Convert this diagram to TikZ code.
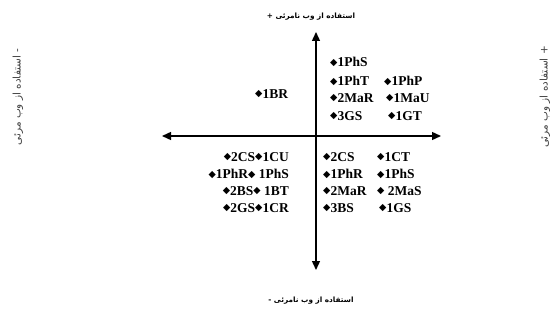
\documentclass[tikz,border=0pt]{standalone}
\usepackage{fontspec}
\setmainfont{Liberation Serif}
\newfontfamily\arabicfont[Script=Arabic]{DejaVu Sans}
\newfontfamily\symfont{DejaVu Sans}
\TeXXeTstate=1
\usetikzlibrary{arrows.meta}
\newcommand{\dmd}{\raisebox{1.6pt}{\symfont\fontsize{9.5}{9.5}\selectfont ◆}}
\begin{document}
\begin{tikzpicture}[x=1pt,y=-1pt,
  item/.style={anchor=west,inner sep=0pt,font=\fontsize{13.5}{13.5}\selectfont\bfseries},
  rowl/.style={anchor=east,inner sep=0pt,font=\fontsize{13.5}{13.5}\selectfont\bfseries},
  axis/.style={line width=1.4pt,{Triangle[length=9pt,width=8pt]}-{Triangle[length=9pt,width=8pt]}},
  plabel/.style={font=\arabicfont\fontsize{7.3}{7.3}\selectfont\bfseries,inner sep=0pt},
  slabel/.style={font=\arabicfont\fontsize{10.5}{10.5}\selectfont,inner sep=0pt,rotate=90,text=black!75}]
\useasboundingbox (0,0) rectangle (550,321);
% axes
\coordinate (top) at (316,32);
\coordinate (bot) at (316,270);
\coordinate (lft) at (162,136);
\coordinate (rgt) at (441,136);
\draw[axis] (bot) -- (top);
\draw[axis] (lft) -- (rgt);
% axis labels
\node[plabel] (ltop) at (311,17) {+ \beginR استفاده از وب نامرئی\endR};
\node[plabel] (lbot) at (311,301) {- \beginR استفاده از وب نامرئی\endR};
\node[slabel] (llft) at (18,97) {\beginR - استفاده از وب مرئی\endR};
\node[slabel] (lrgt) at (545,97) {\beginR + استفاده از وب مرئی\endR};
% top-left
\node[item] (a1) at (255,94) {\dmd1BR};
% top-right
\node[item] (b1) at (330,62) {\dmd1PhS};
\node[item] (b2) at (330,81) {\dmd1PhT};
\node[item] (b3) at (384,81) {\dmd1PhP};
\node[item] (b4) at (330,98) {\dmd2MaR};
\node[item] (b5) at (386,98) {\dmd1MaU};
\node[item] (b6) at (330,116) {\dmd3GS};
\node[item] (b7) at (388,116) {\dmd1GT};
% bottom-left
\node[rowl] (c1) at (289,157) {\dmd2CS\dmd1CU};
\node[rowl] (c2) at (289,174) {\dmd1PhR\dmd\ 1PhS};
\node[rowl] (c3) at (289,191) {\dmd2BS\dmd\ 1BT};
\node[rowl] (c4) at (289,208) {\dmd2GS\dmd1CR};
% bottom-right
\node[item] (d1) at (323,157) {\dmd2CS};
\node[item] (d2) at (377,157) {\dmd1CT};
\node[item] (d3) at (323,174) {\dmd1PhR};
\node[item] (d4) at (377,174) {\dmd1PhS};
\node[item] (d5) at (323,191) {\dmd2MaR};
\node[item] (d6) at (377,191) {\dmd\ 2MaS};
\node[item] (d7) at (323,208) {\dmd3BS};
\node[item] (d8) at (379,208) {\dmd1GS};
\end{tikzpicture}
\end{document}
